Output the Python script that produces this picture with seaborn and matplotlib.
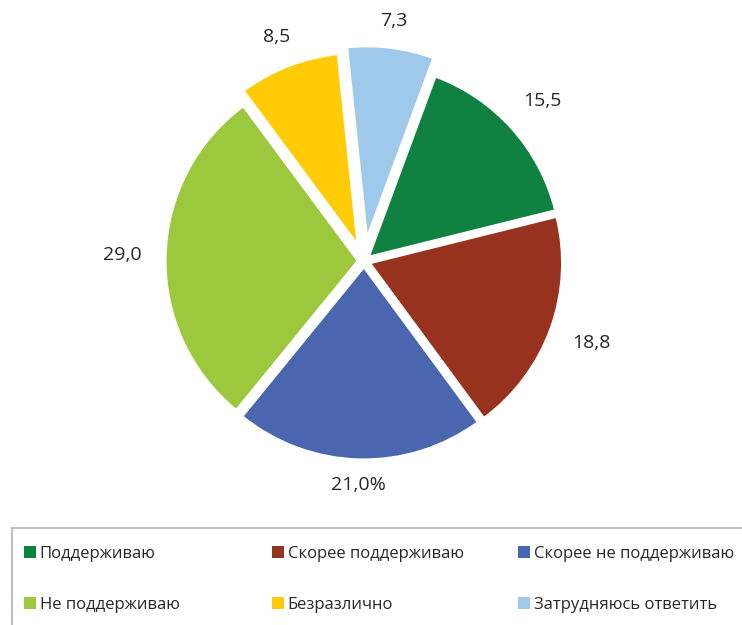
import matplotlib
matplotlib.use("Agg")
import matplotlib.pyplot as plt
from matplotlib.patches import Patch, Rectangle
import seaborn as sns
import numpy as np

categories = ["Поддерживаю", "Скорее поддерживаю", "Скорее не поддерживаю",
              "Не поддерживаю", "Безразлично", "Затрудняюсь ответить"]
values = [15.5, 18.8, 21.0, 29.0, 8.5, 7.3]
value_labels = ["15,5", "18,8", "21,0%", "29,0", "8,5", "7,3"]
colors = ["#0F8241", "#97321F", "#4A66AF", "#9CC83D", "#FECB06", "#9FC9EB"]
explode = [0.03, 0.03, 0.03, 0.03, 0.085, 0.115]

sns.set_theme(style="white")
plt.rcParams["font.family"] = ["Open Sans", "DejaVu Sans"]

W, H = 742, 625
fig = plt.figure(figsize=(W / 100, H / 100), dpi=100)

cx, cy, r = 364, 261, 193
lim = 1.3
side = 2 * lim * r
ax = fig.add_axes([(cx - side / 2) / W, (H - cy - side / 2) / H, side / W, side / H])

wedges, texts = ax.pie(values, colors=colors, explode=explode, startangle=69.7,
                       counterclock=False, labels=value_labels, labeldistance=1.09,
                       wedgeprops=dict(edgecolor="white", linewidth=2),
                       textprops=dict(fontsize=14, color="#262626"))
ax.set_xlim(-lim, lim)
ax.set_ylim(-lim, lim)
ax.set_aspect("equal")
ax.axis("off")

# place labels Excel-like: nearest edge of the label box at a fixed gap
fig.canvas.draw()
renderer = fig.canvas.get_renderer()
for w, t in zip(wedges, texts):
    t.set_ha("center")
    t.set_va("center")
    bb = t.get_window_extent(renderer)
    hw = bb.width / 2 / r * 1.3
    hh = bb.height / 2 / r * 0.8
    th = np.deg2rad((w.theta1 + w.theta2) / 2)
    x, y = t.get_position()
    d = hw * abs(np.cos(th)) + hh * abs(np.sin(th))
    t.set_position((x + d * np.cos(th), y + d * np.sin(th)))

# legend frame
fig.add_artist(Rectangle((12 / W, -0.1), 1.0, (H - 528) / H + 0.1,
                         transform=fig.transFigure, fill=False,
                         edgecolor="#BFBFBF", linewidth=1.5, clip_on=False))

handles = [Patch(facecolor=c, edgecolor="none") for c in colors]
col_x = [24, 272, 518]
for j in range(3):
    idx = [j, j + 3]
    fig.legend([handles[i] for i in idx], [categories[i] for i in idx],
               loc="upper left", bbox_to_anchor=(col_x[j] / W, 1 - 546 / H),
               frameon=False, ncol=1, fontsize=12, handlelength=0.7,
               handleheight=0.7, handletextpad=0.25, labelspacing=2.1,
               borderpad=0, borderaxespad=0, labelcolor="#262626")

fig.savefig("out.png", dpi=100)
